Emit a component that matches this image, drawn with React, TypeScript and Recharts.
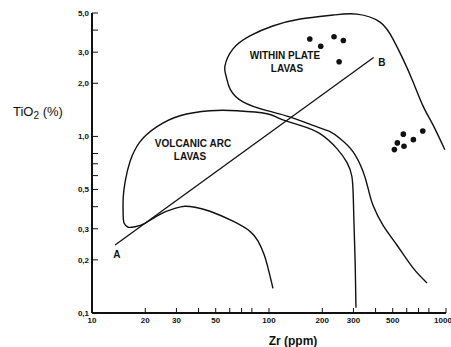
import { ComposedChart, Line, Scatter, XAxis, YAxis, ReferenceDot } from "recharts";

// Zr (ppm) vs TiO2 (%) discrimination diagram, log-log
const xTicks = [10, 20, 30, 40, 50, 60, 70, 80, 90, 100, 200, 300, 400, 500, 600, 700, 800, 900, 1000];
const xLabels: Record<number, string> = { 10: "10", 20: "20", 30: "30", 50: "50", 100: "100", 200: "200", 300: "300", 500: "500", 1000: "1000" };
const yTicks = [0.1, 0.2, 0.3, 0.4, 0.5, 0.6, 0.7, 0.8, 0.9, 1, 2, 3, 4, 5];
const yLabels: Record<number, string> = { 0.1: "0,1", 0.2: "0,2", 0.3: "0,3", 0.5: "0,5", 1: "1,0", 2: "2,0", 3: "3,0", 5: "5,0" };

// within plate field boundary (open at the right and at the bottom)
const wplZr = [985, 847, 741, 651, 571, 502, 424, 314, 230, 150, 105, 78, 62.6, 56.4, 57.2, 60.2, 71.3, 97.4, 131, 177, 221, 252, 298, 340, 363, 387, 441, 529, 651, 781];
const wplTi = [0.84, 1.155, 1.49, 2.04, 2.75, 3.56, 4.44, 4.93, 4.87, 4.62, 4.22, 3.71, 3.13, 2.51, 2.2, 1.86, 1.57, 1.4, 1.29, 1.155, 1.065, 0.972, 0.821, 0.633, 0.508, 0.407, 0.314, 0.242, 0.18, 0.148];

// volcanic arc field boundary
const vaZr = [310, 307, 303, 299.5, 294, 276, 242, 194, 150, 115, 97.4, 66, 46.4, 31.4, 23.3, 18.7, 16.4, 15.4, 15.0, 15.0, 15.2, 16.0, 17.5, 19.9, 24.2, 29.4, 33.5, 38.2, 46.4, 62.6, 78.1, 86.7, 93.7, 98.7, 102.6, 105.3];
const vaTi = [0.107, 0.187, 0.29, 0.446, 0.593, 0.711, 0.853, 1.037, 1.155, 1.26, 1.345, 1.398, 1.398, 1.31, 1.136, 0.935, 0.721, 0.556, 0.446, 0.357, 0.322, 0.306, 0.308, 0.322, 0.362, 0.391, 0.402, 0.397, 0.377, 0.331, 0.29, 0.255, 0.215, 0.18, 0.154, 0.138];

// trend line A-B
const abZr = [13.5, 390];
const abTi = [0.243, 2.8];

// samples
const dotZr = [170, 196, 233, 263, 249, 574, 739, 654, 531, 579, 511];
const dotTi = [3.56, 3.24, 3.67, 3.49, 2.65, 1.03, 1.074, 0.959, 0.919, 0.879, 0.842];

// field and line captions
const captions = ["WITHIN PLATE", "LAVAS", "VOLCANIC ARC", "LAVAS", "A", "B"];
const captionZr = [123, 126.4, 37.2, 35.8, 13.8, 434];
const captionTi = [2.86, 2.43, 0.911, 0.769, 0.215, 2.64];

const zip = (xs: number[], ys: number[]) => xs.map((x, i) => ({ x, y: ys[i] }));
const wpl = zip(wplZr, wplTi);
const va = zip(vaZr, vaTi);
const ab = zip(abZr, abTi);
const dots = zip(dotZr, dotTi);

const FONT = "'Liberation Sans', Arial, sans-serif";
const INK = "#111";

const YTitle = ({ viewBox }: any) => (
  <text x={viewBox.x + 3} y={viewBox.y + 103} fontSize={13} fontFamily={FONT} fill={INK}>
    TiO<tspan fontSize={10} dy={3}>2</tspan><tspan dy={-3}> (%)</tspan>
  </text>
);

const Dot = ({ cx, cy }: any) => <circle cx={cx} cy={cy} r={2.8} fill={INK} />;

export default function App() {
  return (
    <div style={{ position: "fixed", left: 0, top: 0, background: "#fff" }}>
      <ComposedChart width={451} height={347} margin={{ top: 13, right: 5, left: 10, bottom: 0 }}>
        <XAxis
          type="number" dataKey="x" scale="log" domain={[10, 1000]} allowDataOverflow
          ticks={xTicks} tickFormatter={(v: number) => xLabels[v] ?? ""}
          tickSize={-5} tickMargin={9} height={34}
          axisLine={{ stroke: INK, strokeWidth: 1.8 }} tickLine={{ stroke: INK, strokeWidth: 1 }}
          tick={{ fontSize: 8, fontWeight: "bold", fill: INK, fontFamily: FONT }}
          label={{ value: "Zr (ppm)", position: "insideBottom", offset: 2, dx: 24, style: { fontSize: 12, fontFamily: FONT, fill: INK, fontWeight: "bold" } }}
        />
        <YAxis
          type="number" dataKey="y" scale="log" domain={[0.1, 5]} allowDataOverflow
          ticks={yTicks} tickFormatter={(v: number) => yLabels[v] ?? ""}
          tickSize={-6} tickMargin={9} width={82}
          axisLine={{ stroke: INK, strokeWidth: 2 }} tickLine={{ stroke: INK, strokeWidth: 1 }}
          tick={{ fontSize: 8, fontWeight: "bold", fill: INK, fontFamily: FONT }}
          label={<YTitle />}
        />
        <Line data={wpl} dataKey="y" type="natural" stroke={INK} strokeWidth={1.4} dot={false} isAnimationActive={false} />
        <Line data={va} dataKey="y" type="natural" stroke={INK} strokeWidth={1.4} dot={false} isAnimationActive={false} />
        <Line data={ab} dataKey="y" type="linear" stroke={INK} strokeWidth={1.3} dot={false} isAnimationActive={false} />
        <Scatter data={dots} dataKey="y" shape={<Dot />} isAnimationActive={false} />
        {captions.map((c, i) => (
          <ReferenceDot
            key={i} x={captionZr[i]} y={captionTi[i]} r={0} stroke="none" ifOverflow="visible"
            label={{ value: c, position: "center", style: { fontSize: 10, fontWeight: "bold", fontFamily: FONT, fill: INK } }}
          />
        ))}
      </ComposedChart>
    </div>
  );
}
